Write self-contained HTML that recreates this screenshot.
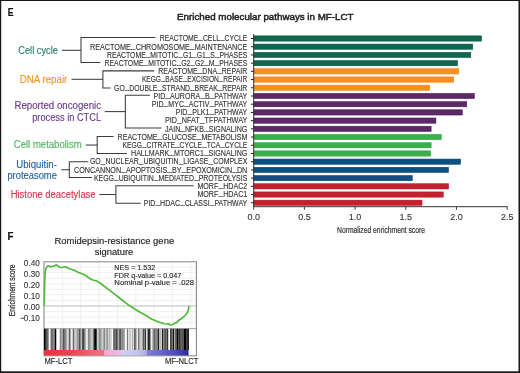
<!DOCTYPE html><html><head><meta charset="utf-8"><style>html,body{margin:0;padding:0;background:#fff;width:520px;height:373px;overflow:hidden}svg{display:block;will-change:transform}text{font-family:"Liberation Sans",sans-serif}</style></head><body>
<svg width="520" height="373" viewBox="0 0 520 373">
<rect x="0" y="0" width="520" height="373" fill="#fff"/>
<text x="7.8" y="16.3" font-size="11.6" font-weight="bold" fill="#111" stroke="#111" stroke-width="0.2" textLength="5.8" lengthAdjust="spacingAndGlyphs">E</text>
<text x="177.1" y="19.8" font-size="9.7" fill="#222" stroke="#222" stroke-width="0.5" textLength="176.4" lengthAdjust="spacingAndGlyphs">Enriched molecular pathways in MF-LCT</text>
<rect x="253.7" y="35.85" width="227.95" height="5.3" fill="#106650" stroke="#005a44" stroke-width="0.5"/>
<rect x="253.7" y="44.06" width="219.05" height="5.3" fill="#106650" stroke="#005a44" stroke-width="0.5"/>
<rect x="253.7" y="52.28" width="217.15" height="5.3" fill="#106650" stroke="#005a44" stroke-width="0.5"/>
<rect x="253.7" y="60.49" width="203.85" height="5.3" fill="#106650" stroke="#005a44" stroke-width="0.5"/>
<rect x="253.7" y="68.70" width="205.05" height="5.3" fill="#f7901e" stroke="#f08010" stroke-width="0.5"/>
<rect x="253.7" y="76.91" width="200.05" height="5.3" fill="#f7901e" stroke="#f08010" stroke-width="0.5"/>
<rect x="253.7" y="85.12" width="175.95" height="5.3" fill="#f7901e" stroke="#f08010" stroke-width="0.5"/>
<rect x="253.7" y="93.34" width="220.75" height="5.3" fill="#5c2868" stroke="#4a1a58" stroke-width="0.5"/>
<rect x="253.7" y="101.55" width="213.05" height="5.3" fill="#5c2868" stroke="#4a1a58" stroke-width="0.5"/>
<rect x="253.7" y="109.76" width="208.65" height="5.3" fill="#5c2868" stroke="#4a1a58" stroke-width="0.5"/>
<rect x="253.7" y="117.97" width="182.25" height="5.3" fill="#5c2868" stroke="#4a1a58" stroke-width="0.5"/>
<rect x="253.7" y="126.19" width="177.45" height="5.3" fill="#5c2868" stroke="#4a1a58" stroke-width="0.5"/>
<rect x="253.7" y="134.40" width="187.65" height="5.3" fill="#39b04a" stroke="#2ea040" stroke-width="0.5"/>
<rect x="253.7" y="142.61" width="177.45" height="5.3" fill="#39b04a" stroke="#2ea040" stroke-width="0.5"/>
<rect x="253.7" y="150.83" width="176.95" height="5.3" fill="#39b04a" stroke="#2ea040" stroke-width="0.5"/>
<rect x="253.7" y="159.04" width="206.95" height="5.3" fill="#0b5283" stroke="#064676" stroke-width="0.5"/>
<rect x="253.7" y="167.25" width="194.95" height="5.3" fill="#0b5283" stroke="#064676" stroke-width="0.5"/>
<rect x="253.7" y="175.46" width="158.65" height="5.3" fill="#0b5283" stroke="#064676" stroke-width="0.5"/>
<rect x="253.7" y="183.68" width="194.95" height="5.3" fill="#c4202f" stroke="#b81525" stroke-width="0.5"/>
<rect x="253.7" y="191.89" width="189.55" height="5.3" fill="#c4202f" stroke="#b81525" stroke-width="0.5"/>
<rect x="253.7" y="200.10" width="168.35" height="5.3" fill="#c4202f" stroke="#b81525" stroke-width="0.5"/>
<text x="247.3" y="41.30" font-size="8.5" fill="#333" stroke="#333" stroke-width="0.12" text-anchor="end" textLength="87.5" lengthAdjust="spacingAndGlyphs">REACTOME<tspan dy="-1.9" font-size="10.2" fill="#4a4a4a" stroke="none">_</tspan><tspan dy="1.9">CELL</tspan><tspan dy="-1.9" font-size="10.2" fill="#4a4a4a" stroke="none">_</tspan><tspan dy="1.9">CYCLE</tspan></text>
<line x1="250.9" y1="38.50" x2="253.7" y2="38.50" stroke="#222" stroke-width="1"/>
<text x="247.3" y="49.51" font-size="8.5" fill="#333" stroke="#333" stroke-width="0.12" text-anchor="end" textLength="157.3" lengthAdjust="spacingAndGlyphs">REACTOME<tspan dy="-1.9" font-size="10.2" fill="#4a4a4a" stroke="none">_</tspan><tspan dy="1.9">CHROMOSOME</tspan><tspan dy="-1.9" font-size="10.2" fill="#4a4a4a" stroke="none">_</tspan><tspan dy="1.9">MAINTENANCE</tspan></text>
<line x1="250.9" y1="46.71" x2="253.7" y2="46.71" stroke="#222" stroke-width="1"/>
<text x="247.3" y="57.72" font-size="8.5" fill="#333" stroke="#333" stroke-width="0.12" text-anchor="end" textLength="140.3" lengthAdjust="spacingAndGlyphs">REACTOME<tspan dy="-1.9" font-size="10.2" fill="#4a4a4a" stroke="none">_</tspan><tspan dy="1.9">MITOTIC</tspan><tspan dy="-1.9" font-size="10.2" fill="#4a4a4a" stroke="none">_</tspan><tspan dy="1.9">G1</tspan><tspan dy="-1.9" font-size="10.2" fill="#4a4a4a" stroke="none">_</tspan><tspan dy="1.9">G1</tspan><tspan dy="-1.9" font-size="10.2" fill="#4a4a4a" stroke="none">_</tspan><tspan dy="1.9">S</tspan><tspan dy="-1.9" font-size="10.2" fill="#4a4a4a" stroke="none">_</tspan><tspan dy="1.9">PHASES</tspan></text>
<line x1="250.9" y1="54.92" x2="253.7" y2="54.92" stroke="#222" stroke-width="1"/>
<text x="247.3" y="65.94" font-size="8.5" fill="#333" stroke="#333" stroke-width="0.12" text-anchor="end" textLength="142.8" lengthAdjust="spacingAndGlyphs">REACTOME<tspan dy="-1.9" font-size="10.2" fill="#4a4a4a" stroke="none">_</tspan><tspan dy="1.9">MITOTIC</tspan><tspan dy="-1.9" font-size="10.2" fill="#4a4a4a" stroke="none">_</tspan><tspan dy="1.9">G2</tspan><tspan dy="-1.9" font-size="10.2" fill="#4a4a4a" stroke="none">_</tspan><tspan dy="1.9">G2</tspan><tspan dy="-1.9" font-size="10.2" fill="#4a4a4a" stroke="none">_</tspan><tspan dy="1.9">M</tspan><tspan dy="-1.9" font-size="10.2" fill="#4a4a4a" stroke="none">_</tspan><tspan dy="1.9">PHASES</tspan></text>
<line x1="250.9" y1="63.14" x2="253.7" y2="63.14" stroke="#222" stroke-width="1"/>
<text x="247.3" y="74.15" font-size="8.5" fill="#333" stroke="#333" stroke-width="0.12" text-anchor="end" textLength="89.1" lengthAdjust="spacingAndGlyphs">REACTOME<tspan dy="-1.9" font-size="10.2" fill="#4a4a4a" stroke="none">_</tspan><tspan dy="1.9">DNA</tspan><tspan dy="-1.9" font-size="10.2" fill="#4a4a4a" stroke="none">_</tspan><tspan dy="1.9">REPAIR</tspan></text>
<line x1="250.9" y1="71.35" x2="253.7" y2="71.35" stroke="#222" stroke-width="1"/>
<text x="247.3" y="82.36" font-size="8.5" fill="#333" stroke="#333" stroke-width="0.12" text-anchor="end" textLength="105.4" lengthAdjust="spacingAndGlyphs">KEGG<tspan dy="-1.9" font-size="10.2" fill="#4a4a4a" stroke="none">_</tspan><tspan dy="1.9">BASE</tspan><tspan dy="-1.9" font-size="10.2" fill="#4a4a4a" stroke="none">_</tspan><tspan dy="1.9">EXCISION</tspan><tspan dy="-1.9" font-size="10.2" fill="#4a4a4a" stroke="none">_</tspan><tspan dy="1.9">REPAIR</tspan></text>
<line x1="250.9" y1="79.56" x2="253.7" y2="79.56" stroke="#222" stroke-width="1"/>
<text x="247.3" y="90.58" font-size="8.5" fill="#333" stroke="#333" stroke-width="0.12" text-anchor="end" textLength="133.2" lengthAdjust="spacingAndGlyphs">GO<tspan dy="-1.9" font-size="10.2" fill="#4a4a4a" stroke="none">_</tspan><tspan dy="1.9">DOUBLE</tspan><tspan dy="-1.9" font-size="10.2" fill="#4a4a4a" stroke="none">_</tspan><tspan dy="1.9">STRAND</tspan><tspan dy="-1.9" font-size="10.2" fill="#4a4a4a" stroke="none">_</tspan><tspan dy="1.9">BREAK</tspan><tspan dy="-1.9" font-size="10.2" fill="#4a4a4a" stroke="none">_</tspan><tspan dy="1.9">REPAIR</tspan></text>
<line x1="250.9" y1="87.78" x2="253.7" y2="87.78" stroke="#222" stroke-width="1"/>
<text x="247.3" y="98.79" font-size="8.5" fill="#333" stroke="#333" stroke-width="0.12" text-anchor="end" textLength="93.7" lengthAdjust="spacingAndGlyphs">PID<tspan dy="-1.9" font-size="10.2" fill="#4a4a4a" stroke="none">_</tspan><tspan dy="1.9">AURORA</tspan><tspan dy="-1.9" font-size="10.2" fill="#4a4a4a" stroke="none">_</tspan><tspan dy="1.9">B</tspan><tspan dy="-1.9" font-size="10.2" fill="#4a4a4a" stroke="none">_</tspan><tspan dy="1.9">PATHWAY</tspan></text>
<line x1="250.9" y1="95.99" x2="253.7" y2="95.99" stroke="#222" stroke-width="1"/>
<text x="247.3" y="107.00" font-size="8.5" fill="#333" stroke="#333" stroke-width="0.12" text-anchor="end" textLength="95.5" lengthAdjust="spacingAndGlyphs">PID<tspan dy="-1.9" font-size="10.2" fill="#4a4a4a" stroke="none">_</tspan><tspan dy="1.9">MYC</tspan><tspan dy="-1.9" font-size="10.2" fill="#4a4a4a" stroke="none">_</tspan><tspan dy="1.9">ACTIV</tspan><tspan dy="-1.9" font-size="10.2" fill="#4a4a4a" stroke="none">_</tspan><tspan dy="1.9">PATHWAY</tspan></text>
<line x1="250.9" y1="104.20" x2="253.7" y2="104.20" stroke="#222" stroke-width="1"/>
<text x="247.3" y="115.21" font-size="8.5" fill="#333" stroke="#333" stroke-width="0.12" text-anchor="end" textLength="71.6" lengthAdjust="spacingAndGlyphs">PID<tspan dy="-1.9" font-size="10.2" fill="#4a4a4a" stroke="none">_</tspan><tspan dy="1.9">PLK1</tspan><tspan dy="-1.9" font-size="10.2" fill="#4a4a4a" stroke="none">_</tspan><tspan dy="1.9">PATHWAY</tspan></text>
<line x1="250.9" y1="112.41" x2="253.7" y2="112.41" stroke="#222" stroke-width="1"/>
<text x="247.3" y="123.42" font-size="8.5" fill="#333" stroke="#333" stroke-width="0.12" text-anchor="end" textLength="82.4" lengthAdjust="spacingAndGlyphs">PID<tspan dy="-1.9" font-size="10.2" fill="#4a4a4a" stroke="none">_</tspan><tspan dy="1.9">NFAT</tspan><tspan dy="-1.9" font-size="10.2" fill="#4a4a4a" stroke="none">_</tspan><tspan dy="1.9">TFPATHWAY</tspan></text>
<line x1="250.9" y1="120.62" x2="253.7" y2="120.62" stroke="#222" stroke-width="1"/>
<text x="247.3" y="131.64" font-size="8.5" fill="#333" stroke="#333" stroke-width="0.12" text-anchor="end" textLength="82.4" lengthAdjust="spacingAndGlyphs">JAIN<tspan dy="-1.9" font-size="10.2" fill="#4a4a4a" stroke="none">_</tspan><tspan dy="1.9">NFKB</tspan><tspan dy="-1.9" font-size="10.2" fill="#4a4a4a" stroke="none">_</tspan><tspan dy="1.9">SIGNALING</tspan></text>
<line x1="250.9" y1="128.84" x2="253.7" y2="128.84" stroke="#222" stroke-width="1"/>
<text x="247.3" y="139.85" font-size="8.5" fill="#333" stroke="#333" stroke-width="0.12" text-anchor="end" textLength="129.7" lengthAdjust="spacingAndGlyphs">REACTOME<tspan dy="-1.9" font-size="10.2" fill="#4a4a4a" stroke="none">_</tspan><tspan dy="1.9">GLUCOSE</tspan><tspan dy="-1.9" font-size="10.2" fill="#4a4a4a" stroke="none">_</tspan><tspan dy="1.9">METABOLISM</tspan></text>
<line x1="250.9" y1="137.05" x2="253.7" y2="137.05" stroke="#222" stroke-width="1"/>
<text x="247.3" y="148.06" font-size="8.5" fill="#333" stroke="#333" stroke-width="0.12" text-anchor="end" textLength="124.8" lengthAdjust="spacingAndGlyphs">KEGG<tspan dy="-1.9" font-size="10.2" fill="#4a4a4a" stroke="none">_</tspan><tspan dy="1.9">CITRATE</tspan><tspan dy="-1.9" font-size="10.2" fill="#4a4a4a" stroke="none">_</tspan><tspan dy="1.9">CYCLE</tspan><tspan dy="-1.9" font-size="10.2" fill="#4a4a4a" stroke="none">_</tspan><tspan dy="1.9">TCA</tspan><tspan dy="-1.9" font-size="10.2" fill="#4a4a4a" stroke="none">_</tspan><tspan dy="1.9">CYCLE</tspan></text>
<line x1="250.9" y1="145.26" x2="253.7" y2="145.26" stroke="#222" stroke-width="1"/>
<text x="247.3" y="156.28" font-size="8.5" fill="#333" stroke="#333" stroke-width="0.12" text-anchor="end" textLength="116.3" lengthAdjust="spacingAndGlyphs">HALLMARK<tspan dy="-1.9" font-size="10.2" fill="#4a4a4a" stroke="none">_</tspan><tspan dy="1.9">MTORC1</tspan><tspan dy="-1.9" font-size="10.2" fill="#4a4a4a" stroke="none">_</tspan><tspan dy="1.9">SIGNALING</tspan></text>
<line x1="250.9" y1="153.48" x2="253.7" y2="153.48" stroke="#222" stroke-width="1"/>
<text x="247.3" y="164.49" font-size="8.5" fill="#333" stroke="#333" stroke-width="0.12" text-anchor="end" textLength="157.4" lengthAdjust="spacingAndGlyphs">GO<tspan dy="-1.9" font-size="10.2" fill="#4a4a4a" stroke="none">_</tspan><tspan dy="1.9">NUCLEAR</tspan><tspan dy="-1.9" font-size="10.2" fill="#4a4a4a" stroke="none">_</tspan><tspan dy="1.9">UBIQUITIN</tspan><tspan dy="-1.9" font-size="10.2" fill="#4a4a4a" stroke="none">_</tspan><tspan dy="1.9">LIGASE</tspan><tspan dy="-1.9" font-size="10.2" fill="#4a4a4a" stroke="none">_</tspan><tspan dy="1.9">COMPLEX</tspan></text>
<line x1="250.9" y1="161.69" x2="253.7" y2="161.69" stroke="#222" stroke-width="1"/>
<text x="247.3" y="172.70" font-size="8.5" fill="#333" stroke="#333" stroke-width="0.12" text-anchor="end" textLength="173.2" lengthAdjust="spacingAndGlyphs">CONCANNON<tspan dy="-1.9" font-size="10.2" fill="#4a4a4a" stroke="none">_</tspan><tspan dy="1.9">APOPTOSIS</tspan><tspan dy="-1.9" font-size="10.2" fill="#4a4a4a" stroke="none">_</tspan><tspan dy="1.9">BY</tspan><tspan dy="-1.9" font-size="10.2" fill="#4a4a4a" stroke="none">_</tspan><tspan dy="1.9">EPOXOMICIN</tspan><tspan dy="-1.9" font-size="10.2" fill="#4a4a4a" stroke="none">_</tspan><tspan dy="1.9">DN</tspan></text>
<line x1="250.9" y1="169.90" x2="253.7" y2="169.90" stroke="#222" stroke-width="1"/>
<text x="247.3" y="180.91" font-size="8.5" fill="#333" stroke="#333" stroke-width="0.12" text-anchor="end" textLength="153.4" lengthAdjust="spacingAndGlyphs">KEGG<tspan dy="-1.9" font-size="10.2" fill="#4a4a4a" stroke="none">_</tspan><tspan dy="1.9">UBIQUITIN</tspan><tspan dy="-1.9" font-size="10.2" fill="#4a4a4a" stroke="none">_</tspan><tspan dy="1.9">MEDIATED</tspan><tspan dy="-1.9" font-size="10.2" fill="#4a4a4a" stroke="none">_</tspan><tspan dy="1.9">PROTEOLYSIS</tspan></text>
<line x1="250.9" y1="178.11" x2="253.7" y2="178.11" stroke="#222" stroke-width="1"/>
<text x="247.3" y="189.13" font-size="8.5" fill="#333" stroke="#333" stroke-width="0.12" text-anchor="end" textLength="49.9" lengthAdjust="spacingAndGlyphs">MORF<tspan dy="-1.9" font-size="10.2" fill="#4a4a4a" stroke="none">_</tspan><tspan dy="1.9">HDAC2</tspan></text>
<line x1="250.9" y1="186.33" x2="253.7" y2="186.33" stroke="#222" stroke-width="1"/>
<text x="247.3" y="197.34" font-size="8.5" fill="#333" stroke="#333" stroke-width="0.12" text-anchor="end" textLength="49.9" lengthAdjust="spacingAndGlyphs">MORF<tspan dy="-1.9" font-size="10.2" fill="#4a4a4a" stroke="none">_</tspan><tspan dy="1.9">HDAC1</tspan></text>
<line x1="250.9" y1="194.54" x2="253.7" y2="194.54" stroke="#222" stroke-width="1"/>
<text x="247.3" y="205.55" font-size="8.5" fill="#333" stroke="#333" stroke-width="0.12" text-anchor="end" textLength="103.6" lengthAdjust="spacingAndGlyphs">PID<tspan dy="-1.9" font-size="10.2" fill="#4a4a4a" stroke="none">_</tspan><tspan dy="1.9">HDAC</tspan><tspan dy="-1.9" font-size="10.2" fill="#4a4a4a" stroke="none">_</tspan><tspan dy="1.9">CLASSI</tspan><tspan dy="-1.9" font-size="10.2" fill="#4a4a4a" stroke="none">_</tspan><tspan dy="1.9">PATHWAY</tspan></text>
<line x1="250.9" y1="202.75" x2="253.7" y2="202.75" stroke="#222" stroke-width="1"/>
<line x1="253.7" y1="34" x2="253.7" y2="206.7" stroke="#333" stroke-width="1"/>
<line x1="253.2" y1="206.7" x2="507.7" y2="206.7" stroke="#333" stroke-width="1"/>
<line x1="253.70" y1="206.7" x2="253.70" y2="209.8" stroke="#333" stroke-width="0.9"/>
<text x="253.70" y="219.5" font-size="9" fill="#333" stroke="#333" stroke-width="0.1" text-anchor="middle">0.0</text>
<line x1="304.40" y1="206.7" x2="304.40" y2="209.8" stroke="#333" stroke-width="0.9"/>
<text x="304.40" y="219.5" font-size="9" fill="#333" stroke="#333" stroke-width="0.1" text-anchor="middle">0.5</text>
<line x1="355.10" y1="206.7" x2="355.10" y2="209.8" stroke="#333" stroke-width="0.9"/>
<text x="355.10" y="219.5" font-size="9" fill="#333" stroke="#333" stroke-width="0.1" text-anchor="middle">1.0</text>
<line x1="405.80" y1="206.7" x2="405.80" y2="209.8" stroke="#333" stroke-width="0.9"/>
<text x="405.80" y="219.5" font-size="9" fill="#333" stroke="#333" stroke-width="0.1" text-anchor="middle">1.5</text>
<line x1="456.50" y1="206.7" x2="456.50" y2="209.8" stroke="#333" stroke-width="0.9"/>
<text x="456.50" y="219.5" font-size="9" fill="#333" stroke="#333" stroke-width="0.1" text-anchor="middle">2.0</text>
<line x1="507.20" y1="206.7" x2="507.20" y2="209.8" stroke="#333" stroke-width="0.9"/>
<text x="507.20" y="219.5" font-size="9" fill="#333" stroke="#333" stroke-width="0.1" text-anchor="middle">2.5</text>
<text x="381" y="232.6" font-size="8.9" fill="#333" stroke="#333" stroke-width="0.2" text-anchor="middle" textLength="88" lengthAdjust="spacingAndGlyphs">Normalized enrichment score</text>
<path d="M155.3,37.40 H81.0 V62.50 H100.4" fill="none" stroke="#3c3c3c" stroke-width="1.05"/>
<line x1="62.0" y1="50.30" x2="81.0" y2="50.30" stroke="#3c3c3c" stroke-width="1.05"/>
<path d="M154.2,70.85 H102.9 V87.90 H110.6" fill="none" stroke="#3c3c3c" stroke-width="1.05"/>
<line x1="71.5" y1="79.30" x2="102.9" y2="79.30" stroke="#3c3c3c" stroke-width="1.05"/>
<path d="M149.9,95.30 H125.35 V128.05 H161.5" fill="none" stroke="#3c3c3c" stroke-width="1.05"/>
<line x1="104.8" y1="111.60" x2="125.35" y2="111.60" stroke="#3c3c3c" stroke-width="1.05"/>
<path d="M113.6,136.45 H97.2 V153.50 H127.0" fill="none" stroke="#3c3c3c" stroke-width="1.05"/>
<line x1="85.8" y1="145.05" x2="97.2" y2="145.05" stroke="#3c3c3c" stroke-width="1.05"/>
<path d="M88.3,161.65 H69.3 V177.50 H91.8" fill="none" stroke="#3c3c3c" stroke-width="1.05"/>
<line x1="61.3" y1="169.70" x2="69.3" y2="169.70" stroke="#3c3c3c" stroke-width="1.05"/>
<path d="M193.6,185.80 H115.9 V203.20 H140.8" fill="none" stroke="#3c3c3c" stroke-width="1.05"/>
<line x1="99.4" y1="194.50" x2="115.9" y2="194.50" stroke="#3c3c3c" stroke-width="1.05"/>
<text x="58.0" y="53.6" font-size="10.0" fill="#237b63" stroke="#237b63" stroke-width="0.12" text-anchor="end" textLength="39.8" lengthAdjust="spacingAndGlyphs">Cell cycle</text>
<text x="67.3" y="82.7" font-size="10.0" fill="#f7941d" stroke="#f7941d" stroke-width="0.12" text-anchor="end" textLength="47.6" lengthAdjust="spacingAndGlyphs">DNA repair</text>
<text x="101.1" y="109.2" font-size="10.0" fill="#66378a" stroke="#66378a" stroke-width="0.12" text-anchor="end" textLength="86.7" lengthAdjust="spacingAndGlyphs">Reported oncogenic</text>
<text x="101.1" y="120.8" font-size="10.0" fill="#66378a" stroke="#66378a" stroke-width="0.12" text-anchor="end" textLength="68.9" lengthAdjust="spacingAndGlyphs">process in CTCL</text>
<text x="81.7" y="148.4" font-size="10.0" fill="#47b65a" stroke="#47b65a" stroke-width="0.12" text-anchor="end" textLength="67.9" lengthAdjust="spacingAndGlyphs">Cell metabolism</text>
<text x="56.9" y="167.6" font-size="10.0" fill="#1f5f9a" stroke="#1f5f9a" stroke-width="0.12" text-anchor="end" textLength="40.6" lengthAdjust="spacingAndGlyphs">Ubiquitin-</text>
<text x="56.9" y="178.8" font-size="10.0" fill="#1f5f9a" stroke="#1f5f9a" stroke-width="0.12" text-anchor="end" textLength="49.5" lengthAdjust="spacingAndGlyphs">proteasome</text>
<text x="95.6" y="197.8" font-size="10.0" fill="#d4344a" stroke="#d4344a" stroke-width="0.12" text-anchor="end" textLength="84.9" lengthAdjust="spacingAndGlyphs">Histone deacetylase</text>
<text x="7.4" y="240.3" font-size="11.6" font-weight="bold" fill="#111" stroke="#111" stroke-width="0.2" textLength="5.9" lengthAdjust="spacingAndGlyphs">F</text>
<text x="114.3" y="244.0" font-size="9.3" fill="#222" stroke="#222" stroke-width="0.15" text-anchor="middle" textLength="119.7" lengthAdjust="spacingAndGlyphs">Romidepsin-resistance gene</text>
<text x="114.0" y="255.1" font-size="9.3" fill="#222" stroke="#222" stroke-width="0.15" text-anchor="middle" textLength="38.4" lengthAdjust="spacingAndGlyphs">signature</text>
<line x1="62.35" y1="261.8" x2="62.35" y2="328.6" stroke="#eaeaea" stroke-width="0.7"/>
<line x1="80.70" y1="261.8" x2="80.70" y2="328.6" stroke="#eaeaea" stroke-width="0.7"/>
<line x1="99.05" y1="261.8" x2="99.05" y2="328.6" stroke="#eaeaea" stroke-width="0.7"/>
<line x1="117.40" y1="261.8" x2="117.40" y2="328.6" stroke="#eaeaea" stroke-width="0.7"/>
<line x1="135.75" y1="261.8" x2="135.75" y2="328.6" stroke="#eaeaea" stroke-width="0.7"/>
<line x1="154.10" y1="261.8" x2="154.10" y2="328.6" stroke="#eaeaea" stroke-width="0.7"/>
<line x1="172.45" y1="261.8" x2="172.45" y2="328.6" stroke="#eaeaea" stroke-width="0.7"/>
<line x1="190.80" y1="261.8" x2="190.80" y2="328.6" stroke="#eaeaea" stroke-width="0.7"/>
<line x1="44.0" y1="267.15" x2="196.4" y2="267.15" stroke="#ebebeb" stroke-width="0.7"/>
<line x1="44.0" y1="272.70" x2="196.4" y2="272.70" stroke="#ebebeb" stroke-width="0.7"/>
<line x1="44.0" y1="278.25" x2="196.4" y2="278.25" stroke="#ebebeb" stroke-width="0.7"/>
<line x1="44.0" y1="283.80" x2="196.4" y2="283.80" stroke="#ebebeb" stroke-width="0.7"/>
<line x1="44.0" y1="289.35" x2="196.4" y2="289.35" stroke="#ebebeb" stroke-width="0.7"/>
<line x1="44.0" y1="294.90" x2="196.4" y2="294.90" stroke="#ebebeb" stroke-width="0.7"/>
<line x1="44.0" y1="300.45" x2="196.4" y2="300.45" stroke="#ebebeb" stroke-width="0.7"/>
<line x1="44.0" y1="311.55" x2="196.4" y2="311.55" stroke="#ebebeb" stroke-width="0.7"/>
<line x1="44.0" y1="317.10" x2="196.4" y2="317.10" stroke="#ebebeb" stroke-width="0.7"/>
<line x1="44.0" y1="322.65" x2="196.4" y2="322.65" stroke="#ebebeb" stroke-width="0.7"/>
<line x1="44.0" y1="306.0" x2="196.4" y2="306.0" stroke="#aaa" stroke-width="0.8"/>
<rect x="44.0" y="261.8" width="152.40" height="94.00" fill="none" stroke="#8c8c8c" stroke-width="1.1"/>
<line x1="44.0" y1="328.6" x2="196.4" y2="328.6" stroke="#888" stroke-width="0.8"/>
<path d="M44.2,305.5 L44.4,296 L44.6,287 L45,275 L45.5,270 L46.5,267.5 L48,265.8 L49,265.8 L50.5,267 L52,266.2 L54,266.2 L55,265.5 L56.5,264.8 L58,266 L60,267.2 L62,267.5 L64,267 L65.5,266.8 L67,267.5 L69,268.5 L71,269.2 L73,270 L74,270 L76,271.2 L78,272.2 L80,273 L82,273.8 L84,274.5 L86,275.8 L88,277.2 L90,278.5 L92,279.7 L94,280.3 L97,281.1 L100,283 L104,286 L108,289.2 L112,292.2 L116,295.2 L120,298.5 L124,301.5 L128,304.7 L131,306.5 L134,308.5 L138,311 L141,312.8 L143,313.8 L146,315.5 L149,317.5 L152,319.2 L155,320.5 L158,321.8 L161,322.8 L164,323.8 L167,324 L168.5,323.8 L170,325 L172,324.8 L173.5,324.2 L175,322.8 L176.5,322.8 L178,321 L180,319.5 L182,318.2 L184,316.5 L186,314.5 L187.5,312.5 L188.5,309 L189,306" fill="none" stroke="#52b83c" stroke-width="1.65" stroke-linejoin="round"/>
<text x="114.3" y="270.2" font-size="7.3" fill="#222" stroke="#222" stroke-width="0.1" textLength="41.1" lengthAdjust="spacingAndGlyphs">NES = 1.532</text>
<text x="114.3" y="277.6" font-size="7.3" fill="#222" stroke="#222" stroke-width="0.1" textLength="67.1" lengthAdjust="spacingAndGlyphs">FDR q-value = 0.047</text>
<text x="114.3" y="284.5" font-size="7.3" fill="#222" stroke="#222" stroke-width="0.1" textLength="79.8" lengthAdjust="spacingAndGlyphs">Nominal p-value = .028</text>
<text x="39.8" y="265.50" font-size="8.2" fill="#333" stroke="#333" stroke-width="0.1" text-anchor="end">0.40</text>
<text x="39.8" y="276.60" font-size="8.2" fill="#333" stroke="#333" stroke-width="0.1" text-anchor="end">0.30</text>
<text x="39.8" y="287.70" font-size="8.2" fill="#333" stroke="#333" stroke-width="0.1" text-anchor="end">0.20</text>
<text x="39.8" y="298.80" font-size="8.2" fill="#333" stroke="#333" stroke-width="0.1" text-anchor="end">0.10</text>
<text x="39.8" y="309.90" font-size="8.2" fill="#333" stroke="#333" stroke-width="0.1" text-anchor="end">0.00</text>
<rect x="20.6" y="317.80" width="3.5" height="0.9" fill="#333"/>
<text x="39.8" y="321.00" font-size="8.2" fill="#333" stroke="#333" stroke-width="0.1" text-anchor="end">0.10</text>
<text transform="translate(14.6,316.25) rotate(-90)" font-size="9.3" fill="#333" stroke="#333" stroke-width="0.25" textLength="51.8" lengthAdjust="spacingAndGlyphs">Enrichment score</text>
<rect x="44" y="328.8" width="1" height="21.20" fill="#000000"/>
<rect x="45" y="328.8" width="1" height="21.20" fill="#333333"/>
<rect x="46" y="328.8" width="1" height="21.20" fill="#555555"/>
<rect x="47" y="328.8" width="1" height="21.20" fill="#666666"/>
<rect x="48" y="328.8" width="1" height="21.20" fill="#999999"/>
<rect x="49" y="328.8" width="1" height="21.20" fill="#ffffff"/>
<rect x="50" y="328.8" width="1" height="21.20" fill="#bbbbbb"/>
<rect x="51" y="328.8" width="1" height="21.20" fill="#666666"/>
<rect x="52" y="328.8" width="1" height="21.20" fill="#777777"/>
<rect x="53" y="328.8" width="1" height="21.20" fill="#888888"/>
<rect x="54" y="328.8" width="1" height="21.20" fill="#777777"/>
<rect x="55" y="328.8" width="1" height="21.20" fill="#000000"/>
<rect x="56" y="328.8" width="1" height="21.20" fill="#bbbbbb"/>
<rect x="57" y="328.8" width="1" height="21.20" fill="#ffffff"/>
<rect x="58" y="328.8" width="1" height="21.20" fill="#ffffff"/>
<rect x="59" y="328.8" width="1" height="21.20" fill="#dddddd"/>
<rect x="60" y="328.8" width="1" height="21.20" fill="#888888"/>
<rect x="61" y="328.8" width="1" height="21.20" fill="#aaaaaa"/>
<rect x="62" y="328.8" width="1" height="21.20" fill="#999999"/>
<rect x="63" y="328.8" width="1" height="21.20" fill="#555555"/>
<rect x="64" y="328.8" width="1" height="21.20" fill="#777777"/>
<rect x="65" y="328.8" width="1" height="21.20" fill="#888888"/>
<rect x="66" y="328.8" width="1" height="21.20" fill="#aaaaaa"/>
<rect x="67" y="328.8" width="1" height="21.20" fill="#dddddd"/>
<rect x="68" y="328.8" width="1" height="21.20" fill="#bbbbbb"/>
<rect x="69" y="328.8" width="1" height="21.20" fill="#666666"/>
<rect x="70" y="328.8" width="1" height="21.20" fill="#aaaaaa"/>
<rect x="71" y="328.8" width="1" height="21.20" fill="#eeeeee"/>
<rect x="72" y="328.8" width="1" height="21.20" fill="#cccccc"/>
<rect x="73" y="328.8" width="1" height="21.20" fill="#666666"/>
<rect x="74" y="328.8" width="1" height="21.20" fill="#bbbbbb"/>
<rect x="75" y="328.8" width="1" height="21.20" fill="#cccccc"/>
<rect x="76" y="328.8" width="1" height="21.20" fill="#bbbbbb"/>
<rect x="77" y="328.8" width="1" height="21.20" fill="#999999"/>
<rect x="78" y="328.8" width="1" height="21.20" fill="#999999"/>
<rect x="79" y="328.8" width="1" height="21.20" fill="#555555"/>
<rect x="80" y="328.8" width="1" height="21.20" fill="#888888"/>
<rect x="81" y="328.8" width="1" height="21.20" fill="#bbbbbb"/>
<rect x="82" y="328.8" width="1" height="21.20" fill="#555555"/>
<rect x="83" y="328.8" width="1" height="21.20" fill="#444444"/>
<rect x="84" y="328.8" width="1" height="21.20" fill="#888888"/>
<rect x="85" y="328.8" width="1" height="21.20" fill="#aaaaaa"/>
<rect x="86" y="328.8" width="1" height="21.20" fill="#eeeeee"/>
<rect x="87" y="328.8" width="1" height="21.20" fill="#dddddd"/>
<rect x="88" y="328.8" width="1" height="21.20" fill="#888888"/>
<rect x="89" y="328.8" width="1" height="21.20" fill="#999999"/>
<rect x="90" y="328.8" width="1" height="21.20" fill="#aaaaaa"/>
<rect x="91" y="328.8" width="1" height="21.20" fill="#cccccc"/>
<rect x="92" y="328.8" width="1" height="21.20" fill="#bbbbbb"/>
<rect x="93" y="328.8" width="1" height="21.20" fill="#777777"/>
<rect x="94" y="328.8" width="1" height="21.20" fill="#222222"/>
<rect x="95" y="328.8" width="1" height="21.20" fill="#000000"/>
<rect x="96" y="328.8" width="1" height="21.20" fill="#444444"/>
<rect x="97" y="328.8" width="1" height="21.20" fill="#cccccc"/>
<rect x="98" y="328.8" width="1" height="21.20" fill="#bbbbbb"/>
<rect x="99" y="328.8" width="1" height="21.20" fill="#888888"/>
<rect x="100" y="328.8" width="1" height="21.20" fill="#999999"/>
<rect x="101" y="328.8" width="1" height="21.20" fill="#bbbbbb"/>
<rect x="102" y="328.8" width="1" height="21.20" fill="#cccccc"/>
<rect x="103" y="328.8" width="1" height="21.20" fill="#aaaaaa"/>
<rect x="104" y="328.8" width="1" height="21.20" fill="#888888"/>
<rect x="105" y="328.8" width="1" height="21.20" fill="#cccccc"/>
<rect x="106" y="328.8" width="1" height="21.20" fill="#aaaaaa"/>
<rect x="107" y="328.8" width="1" height="21.20" fill="#999999"/>
<rect x="108" y="328.8" width="1" height="21.20" fill="#cccccc"/>
<rect x="109" y="328.8" width="1" height="21.20" fill="#bbbbbb"/>
<rect x="110" y="328.8" width="1" height="21.20" fill="#cccccc"/>
<rect x="111" y="328.8" width="1" height="21.20" fill="#dddddd"/>
<rect x="112" y="328.8" width="1" height="21.20" fill="#ffffff"/>
<rect x="113" y="328.8" width="1" height="21.20" fill="#777777"/>
<rect x="114" y="328.8" width="1" height="21.20" fill="#666666"/>
<rect x="115" y="328.8" width="1" height="21.20" fill="#777777"/>
<rect x="116" y="328.8" width="1" height="21.20" fill="#444444"/>
<rect x="117" y="328.8" width="1" height="21.20" fill="#777777"/>
<rect x="118" y="328.8" width="1" height="21.20" fill="#aaaaaa"/>
<rect x="119" y="328.8" width="1" height="21.20" fill="#666666"/>
<rect x="120" y="328.8" width="1" height="21.20" fill="#555555"/>
<rect x="121" y="328.8" width="1" height="21.20" fill="#999999"/>
<rect x="122" y="328.8" width="1" height="21.20" fill="#888888"/>
<rect x="123" y="328.8" width="1" height="21.20" fill="#999999"/>
<rect x="124" y="328.8" width="1" height="21.20" fill="#aaaaaa"/>
<rect x="125" y="328.8" width="1" height="21.20" fill="#ffffff"/>
<rect x="126" y="328.8" width="1" height="21.20" fill="#eeeeee"/>
<rect x="127" y="328.8" width="1" height="21.20" fill="#777777"/>
<rect x="128" y="328.8" width="1" height="21.20" fill="#dddddd"/>
<rect x="129" y="328.8" width="1" height="21.20" fill="#cccccc"/>
<rect x="130" y="328.8" width="1" height="21.20" fill="#cccccc"/>
<rect x="131" y="328.8" width="1" height="21.20" fill="#eeeeee"/>
<rect x="132" y="328.8" width="1" height="21.20" fill="#aaaaaa"/>
<rect x="133" y="328.8" width="1" height="21.20" fill="#dddddd"/>
<rect x="134" y="328.8" width="1" height="21.20" fill="#666666"/>
<rect x="135" y="328.8" width="1" height="21.20" fill="#777777"/>
<rect x="136" y="328.8" width="1" height="21.20" fill="#bbbbbb"/>
<rect x="137" y="328.8" width="1" height="21.20" fill="#eeeeee"/>
<rect x="138" y="328.8" width="1" height="21.20" fill="#777777"/>
<rect x="139" y="328.8" width="1" height="21.20" fill="#aaaaaa"/>
<rect x="140" y="328.8" width="1" height="21.20" fill="#cccccc"/>
<rect x="141" y="328.8" width="1" height="21.20" fill="#cccccc"/>
<rect x="142" y="328.8" width="1" height="21.20" fill="#aaaaaa"/>
<rect x="143" y="328.8" width="1" height="21.20" fill="#555555"/>
<rect x="144" y="328.8" width="1" height="21.20" fill="#888888"/>
<rect x="145" y="328.8" width="1" height="21.20" fill="#333333"/>
<rect x="146" y="328.8" width="1" height="21.20" fill="#dddddd"/>
<rect x="147" y="328.8" width="1" height="21.20" fill="#999999"/>
<rect x="148" y="328.8" width="1" height="21.20" fill="#222222"/>
<rect x="149" y="328.8" width="1" height="21.20" fill="#333333"/>
<rect x="150" y="328.8" width="1" height="21.20" fill="#999999"/>
<rect x="151" y="328.8" width="1" height="21.20" fill="#eeeeee"/>
<rect x="152" y="328.8" width="1" height="21.20" fill="#bbbbbb"/>
<rect x="153" y="328.8" width="1" height="21.20" fill="#888888"/>
<rect x="154" y="328.8" width="1" height="21.20" fill="#666666"/>
<rect x="155" y="328.8" width="1" height="21.20" fill="#888888"/>
<rect x="156" y="328.8" width="1" height="21.20" fill="#888888"/>
<rect x="157" y="328.8" width="1" height="21.20" fill="#777777"/>
<rect x="158" y="328.8" width="1" height="21.20" fill="#222222"/>
<rect x="159" y="328.8" width="1" height="21.20" fill="#bbbbbb"/>
<rect x="160" y="328.8" width="1" height="21.20" fill="#bbbbbb"/>
<rect x="161" y="328.8" width="1" height="21.20" fill="#cccccc"/>
<rect x="162" y="328.8" width="1" height="21.20" fill="#222222"/>
<rect x="163" y="328.8" width="1" height="21.20" fill="#888888"/>
<rect x="164" y="328.8" width="1" height="21.20" fill="#666666"/>
<rect x="165" y="328.8" width="1" height="21.20" fill="#555555"/>
<rect x="166" y="328.8" width="1" height="21.20" fill="#777777"/>
<rect x="167" y="328.8" width="1" height="21.20" fill="#333333"/>
<rect x="168" y="328.8" width="1" height="21.20" fill="#cccccc"/>
<rect x="169" y="328.8" width="1" height="21.20" fill="#ffffff"/>
<rect x="170" y="328.8" width="1" height="21.20" fill="#444444"/>
<rect x="171" y="328.8" width="1" height="21.20" fill="#555555"/>
<rect x="172" y="328.8" width="1" height="21.20" fill="#777777"/>
<rect x="173" y="328.8" width="1" height="21.20" fill="#111111"/>
<rect x="174" y="328.8" width="1" height="21.20" fill="#aaaaaa"/>
<rect x="175" y="328.8" width="1" height="21.20" fill="#666666"/>
<rect x="176" y="328.8" width="1" height="21.20" fill="#555555"/>
<rect x="177" y="328.8" width="1" height="21.20" fill="#000000"/>
<rect x="178" y="328.8" width="1" height="21.20" fill="#555555"/>
<rect x="179" y="328.8" width="1" height="21.20" fill="#333333"/>
<rect x="180" y="328.8" width="1" height="21.20" fill="#555555"/>
<rect x="181" y="328.8" width="1" height="21.20" fill="#666666"/>
<rect x="182" y="328.8" width="1" height="21.20" fill="#555555"/>
<rect x="183" y="328.8" width="1" height="21.20" fill="#555555"/>
<rect x="184" y="328.8" width="1" height="21.20" fill="#000000"/>
<rect x="185" y="328.8" width="1" height="21.20" fill="#050505"/>
<rect x="186" y="328.8" width="1" height="21.20" fill="#444444"/>
<rect x="187" y="328.8" width="1" height="21.20" fill="#333333"/>
<rect x="188" y="328.8" width="1" height="21.20" fill="#222222"/>
<defs><linearGradient id="cb" gradientUnits="userSpaceOnUse" x1="44" x2="188.5" y1="0" y2="0"><stop offset="0.0000" stop-color="#f03038"/><stop offset="0.1799" stop-color="#e84450"/><stop offset="0.3599" stop-color="#f06a78"/><stop offset="0.4152" stop-color="#f07080"/><stop offset="0.4187" stop-color="#f4a8d4"/><stop offset="0.5329" stop-color="#f0b8e0"/><stop offset="0.5363" stop-color="#d0d0f4"/><stop offset="0.6436" stop-color="#c4c4f0"/><stop offset="0.7128" stop-color="#b0a8e4"/><stop offset="0.7163" stop-color="#7c7cd8"/><stop offset="0.7889" stop-color="#6c6cd0"/><stop offset="0.9066" stop-color="#4c4cbc"/><stop offset="0.9827" stop-color="#3030a0"/><stop offset="1.0000" stop-color="#3a2090"/></linearGradient></defs>
<rect x="44.0" y="350.0" width="144.5" height="5.5" fill="url(#cb)"/>
<text x="44.4" y="364.3" font-size="8.2" fill="#222" stroke="#222" stroke-width="0.1" textLength="28.1" lengthAdjust="spacingAndGlyphs">MF-LCT</text>
<text x="198.4" y="364.3" font-size="8.2" fill="#222" stroke="#222" stroke-width="0.1" text-anchor="end" textLength="33.4" lengthAdjust="spacingAndGlyphs">MF-NLCT</text>
<rect x="0" y="0" width="520" height="1" fill="#1a1718"/>
<rect x="0" y="0" width="1.2" height="373" fill="#1a1718"/>
<rect x="518.5" y="0" width="1.5" height="373" fill="#1a1718"/>
<rect x="0" y="371.3" width="520" height="1.7" fill="#1a1718"/>
</svg></body></html>
